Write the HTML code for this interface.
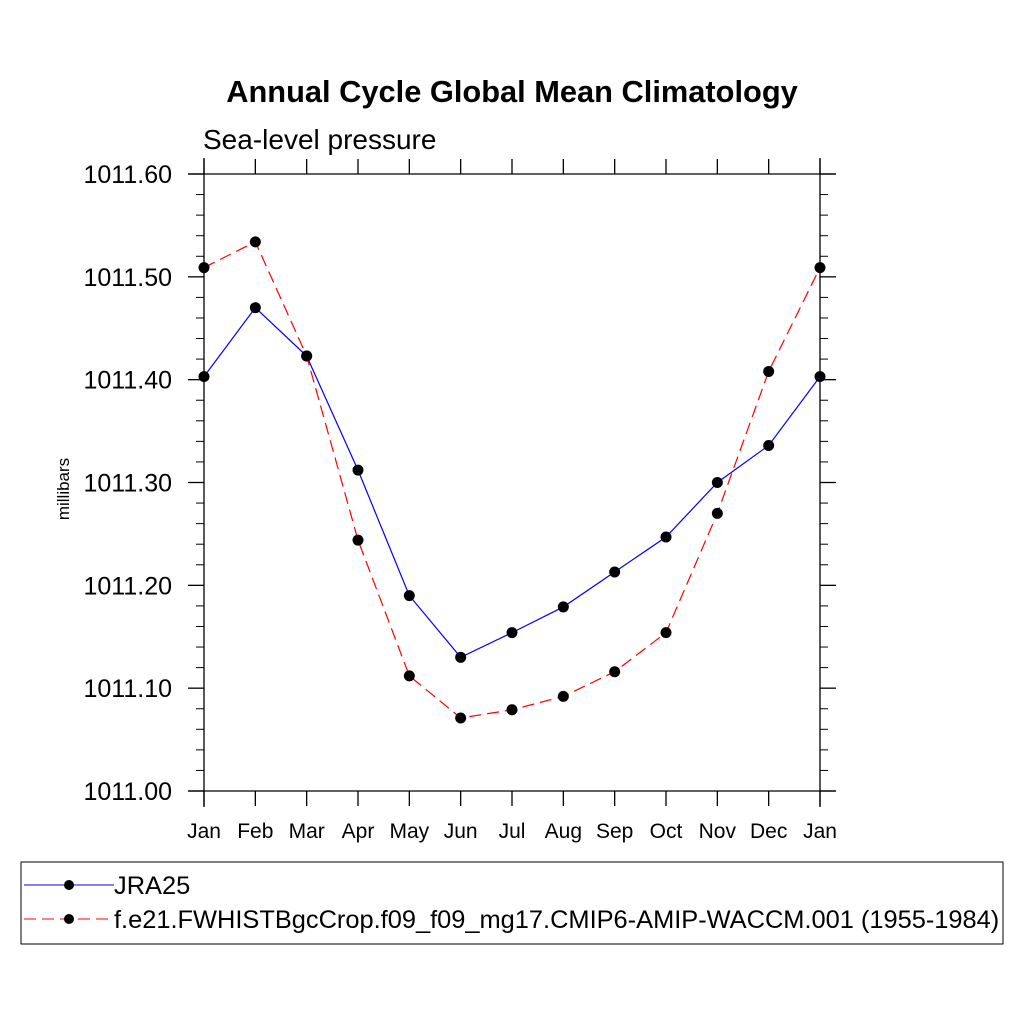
<!DOCTYPE html>
<html><head><meta charset="utf-8"><style>body{margin:0;background:#fff}svg{display:block;font-family:"Liberation Sans",sans-serif}</style></head>
<body>
<svg id="chart" width="1024" height="1024" viewBox="0 0 1024 1024">
<rect width="1024" height="1024" fill="#fff"/>
<text x="512" y="102" text-anchor="middle" font-size="30.8" font-weight="bold">Annual Cycle Global Mean Climatology</text>
<text x="203" y="149" font-size="28">Sea-level pressure</text>
<text transform="translate(69,489) rotate(-90)" text-anchor="middle" font-size="17">millibars</text>
<g id="axes"></g>
<g id="series"></g>
<g>
<rect x="21" y="862" width="982" height="82" fill="none" stroke="#000" stroke-width="1"/>
<g>
<line x1="24" y1="885" x2="114" y2="885" stroke="#00f" stroke-width="1"/>
<circle cx="69" cy="885" r="5" fill="#000"/>
<text x="114" y="894" font-size="25.4">JRA25</text></g>
<g>
<line x1="24" y1="919" x2="114" y2="919" stroke="#f00" stroke-width="1" stroke-dasharray="12,6"/>
<circle cx="69" cy="919" r="5" fill="#000"/>
<text x="114" y="928" font-size="25.4">f.e21.FWHISTBgcCrop.f09_f09_mg17.CMIP6-AMIP-WACCM.001 (1955-1984)</text></g>
</g>
</svg>
<script>
const months = ["Jan","Feb","Mar","Apr","May","Jun","Jul","Aug","Sep","Oct","Nov","Dec","Jan"];
const jra25 = [1011.403,1011.470,1011.423,1011.312,1011.190,1011.130,1011.154,1011.179,1011.213,1011.247,1011.300,1011.336,1011.403];
const model = [1011.509,1011.534,1011.423,1011.244,1011.112,1011.071,1011.079,1011.092,1011.116,1011.154,1011.270,1011.408,1011.509];
const yTicks = [1011.0,1011.1,1011.2,1011.3,1011.4,1011.5,1011.6];
const yTickLabels = ["1011.00","1011.10","1011.20","1011.30","1011.40","1011.50","1011.60"];
const NS="http://www.w3.org/2000/svg";
const L=204,R=820,T=174,B=791,ymin=1011.0,ymax=1011.6;
const xs=i=>L+(R-L)*i/(months.length-1);
const ys=v=>B-(v-ymin)/(ymax-ymin)*(B-T);
function mk(tag,attrs,parent){const e=document.createElementNS(NS,tag);for(const k in attrs)e.setAttribute(k,attrs[k]);parent.appendChild(e);return e;}
const ax=document.getElementById('axes');
const ln=(x1,y1,x2,y2,w)=>mk('line',{x1,y1,x2,y2,stroke:'#000','stroke-width':w||1.3},ax);
ln(188,T,836,T);ln(188,B,836,B);ln(L,158,L,807);ln(R,158,R,807);
months.forEach((m,i)=>{const x=xs(i);ln(x,B,x,806);ln(x,T,x,159);
 const t=mk('text',{x:x,y:838,'text-anchor':'middle','font-size':21},ax);t.textContent=m;
 
 });
yTicks.forEach((v,i)=>{const y=ys(v);ln(188,y,L,y);ln(R,y,836,y);
 const t=mk('text',{x:172,y:y+9,'text-anchor':'end','font-size':25},ax);t.textContent=yTickLabels[i];
 
 
 if(i<yTicks.length-1)for(let k=1;k<5;k++){const yy=ys(v+(yTicks[1]-yTicks[0])*k/5);ln(196,yy,L,yy,1);ln(R,yy,828,yy,1);}});
const sg=document.getElementById('series');
function series(data,color,dash,name){
 const p=mk('polyline',{points:data.map((v,i)=>xs(i)+','+ys(v)).join(' '),fill:'none',stroke:color,'stroke-width':1.2},sg);
 if(dash)p.setAttribute('stroke-dasharray',dash);
 
 
 data.forEach((v,i)=>{const c=mk('circle',{cx:xs(i),cy:ys(v),r:5.5,fill:'#000'},sg);
  
  });
}
series(jra25,'#00f',null,'jra25');
series(model,'#f00','12,6','model');
</script>
</body></html>
